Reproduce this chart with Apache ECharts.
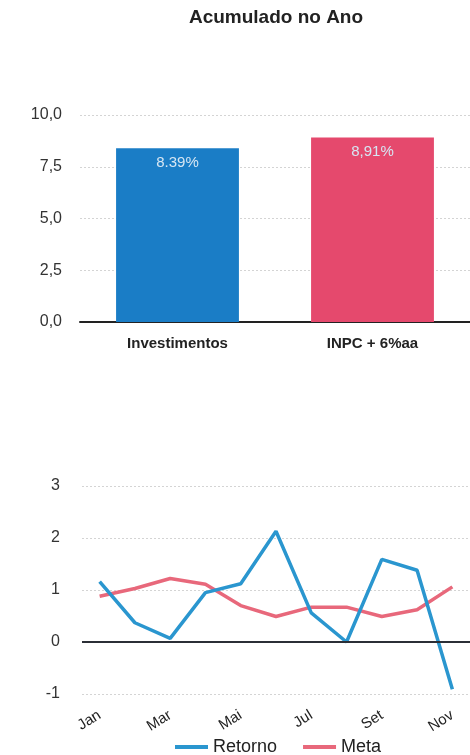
<!DOCTYPE html>
<html>
<head>
<meta charset="utf-8">
<script src="https://cdn.jsdelivr.net/npm/echarts@6/dist/echarts.min.js"></script>
<style>
  html, body { margin: 0; padding: 0; background: #fff; }
  #chart { width: 470px; height: 755px; }
</style>
</head>
<body>
<div id="chart"></div>
<script>
// acumulado no ano
var barCategories = ['Investimentos', 'INPC + 6%aa'];
var barValues = [8.39, 8.91];
var barLabels = ['8.39%', '8,91%'];
var barColors = ['#1a7dc6', '#e5496d'];

// mensal
var months = ['Jan', 'Fev', 'Mar', 'Abr', 'Mai', 'Jun', 'Jul', 'Ago', 'Set', 'Out', 'Nov'];
var retorno = [1.16, 0.37, 0.07, 0.95, 1.12, 2.13, 0.56, 0.0, 1.59, 1.38, -0.91];
var meta = [0.88, 1.03, 1.22, 1.11, 0.70, 0.49, 0.67, 0.67, 0.49, 0.62, 1.06];

var font = 'Liberation Sans, Arial, sans-serif';
var gridLine = { show: true, lineStyle: { color: '#d4d4d4', type: [2, 2], width: 1 } };

var myChart = echarts.init(document.getElementById('chart'));
var options = {
    animation: false,
    textStyle: { fontFamily: font },
    title: {
        text: 'Acumulado no Ano',
        left: 271,
        textAlign: 'center',
        top: 3,
        textStyle: { fontSize: 19, fontWeight: 'bold', color: '#222', fontFamily: font }
    },
    legend: {
        data: ['Retorno', 'Meta'],
        left: 170,
        top: 733,
        itemWidth: 33,
        itemHeight: 4,
        itemGap: 26,
        icon: 'rect',
        textStyle: { fontSize: 18, color: '#222', fontFamily: font }
    },
    grid: [
        { left: 80, right: 0, top: 115, height: 207 },
        { left: 82, right: 0, top: 486, height: 208 }
    ],
    xAxis: [{
        type: 'category',
        gridIndex: 0,
        data: barCategories,
        axisTick: { show: false },
        axisLine: { lineStyle: { color: '#222', width: 2 } },
        axisLabel: { color: '#222', fontSize: 15, fontWeight: 'bold', margin: 14 }
    }, {
        type: 'category',
        gridIndex: 1,
        data: months,
        axisTick: { show: false },
        axisLine: { show: false, onZero: false },
        axisLabel: { color: '#222', fontSize: 15, rotate: 32, interval: 1, margin: 20 }
    }],
    yAxis: [{
        type: 'value',
        gridIndex: 0,
        min: 0,
        max: 10,
        interval: 2.5,
        axisLine: { show: false },
        axisTick: { show: false },
        splitLine: gridLine,
        axisLabel: {
            color: '#333', fontSize: 16, margin: 18,
            formatter: function (v) { return v.toFixed(1).replace('.', ','); }
        }
    }, {
        type: 'value',
        gridIndex: 1,
        min: -1,
        max: 3,
        interval: 1,
        axisLine: { show: false },
        axisTick: { show: false },
        splitLine: gridLine,
        axisLabel: { color: '#333', fontSize: 16, margin: 22 }
    }],
    series: [{
        name: 'Acumulado',
        type: 'bar',
        xAxisIndex: 0,
        yAxisIndex: 0,
        barWidth: '63%',
        data: barValues.map(function (v, i) {
            return { value: v, itemStyle: { color: barColors[i] } };
        }),
        label: {
            show: true,
            position: 'insideTop',
            distance: 7,
            color: '#d6e6f3',
            fontSize: 15,
            formatter: function (p) { return barLabels[p.dataIndex]; }
        }
    }, {
        name: 'Retorno',
        type: 'line',
        xAxisIndex: 1,
        yAxisIndex: 1,
        symbol: 'none',
        color: '#2a96cf',
        lineStyle: { width: 3.5, color: '#2a96cf' },
        data: retorno,
        z: 3,
        markLine: {
            silent: true,
            symbol: 'none',
            label: { show: false },
            lineStyle: { color: '#2b2f36', width: 2, type: 'solid' },
            data: [{ yAxis: 0 }]
        }
    }, {
        name: 'Meta',
        type: 'line',
        xAxisIndex: 1,
        yAxisIndex: 1,
        symbol: 'none',
        color: '#e8687b',
        lineStyle: { width: 3.5, color: '#e8687b' },
        data: meta,
        z: 2
    }]
};
myChart.setOption(options, true);
</script>
</body>
</html>
